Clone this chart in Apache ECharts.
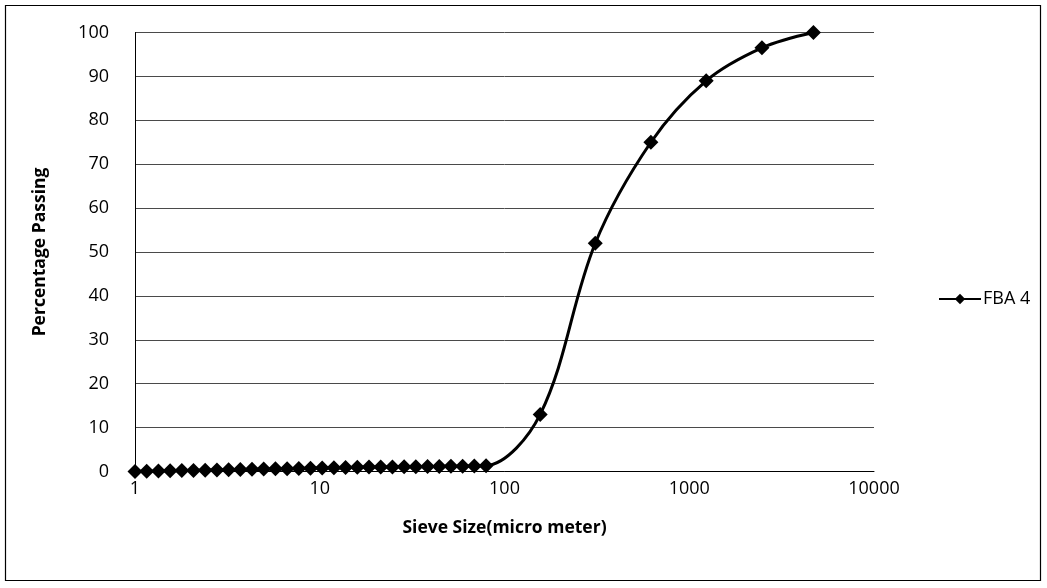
<!DOCTYPE html>
<html>
<head>
<meta charset="utf-8">
<title>FBA 4 grading curve</title>
<script src="https://cdn.jsdelivr.net/npm/echarts@6/dist/echarts.min.js"></script>
<style>
  html, body { margin: 0; padding: 0; background: #fff; }
  #chart { width: 1047px; height: 588px; }
</style>
</head>
<body>
<div id="chart"></div>
<script>
// Sieve sizes (micro meter) and cumulative percentage passing for FBA 4
const sieveSizes = [
  1, 1.157, 1.339, 1.549, 1.792, 2.073, 2.399, 2.776, 3.211, 3.716,
  4.299, 4.974, 5.755, 6.659, 7.704, 8.914, 10.31, 11.93, 13.8, 15.97,
  18.48, 21.38, 24.74, 28.62, 33.12, 38.32, 44.33, 51.3, 59.35, 68.67,
  79.45, 156, 310, 620, 1235, 2475, 4700
];
const percentPassing = [
  0, 0.05, 0.1, 0.15, 0.2, 0.25, 0.3, 0.35, 0.4, 0.45,
  0.5, 0.55, 0.6, 0.65, 0.7, 0.75, 0.8, 0.85, 0.9, 0.95,
  1.0, 1.0, 1.05, 1.1, 1.1, 1.15, 1.15, 1.2, 1.2, 1.25,
  1.3, 13, 52, 75, 89, 96.5, 100
];
const seriesName = 'FBA 4';
const xTitle = 'Sieve Size(micro meter)';
const yTitle = 'Percentage Passing';

const points = sieveSizes.map((s, i) => [s, percentPassing[i]]);

const chart = echarts.init(document.getElementById('chart'));
const font = '"Open Sans", "Noto Sans", "Liberation Sans", sans-serif';

chart.setOption({
  animation: false,
  backgroundColor: '#fff',
  textStyle: { fontFamily: font },
  grid: { left: 135, right: 173, top: 32.5, bottom: 116.5, containLabel: false },
  graphic: [{
    type: 'rect',
    shape: { x: 5.5, y: 5.5, width: 1035, height: 575 },
    style: { fill: 'none', stroke: '#000', lineWidth: 1.2 },
    silent: true
  }],
  legend: {
    data: [seriesName],
    orient: 'vertical',
    left: 933,
    top: 285,
    itemWidth: 42,
    itemHeight: 13,
    itemGap: 4,
    textStyle: { fontSize: 18, color: '#000', fontFamily: font, padding: [0, 0, 0, -3] }
  },
  xAxis: {
    type: 'log',
    logBase: 10,
    min: 1,
    max: 10000,
    name: xTitle,
    nameLocation: 'middle',
    nameGap: 48,
    nameTextStyle: { fontSize: 17.5, fontWeight: 'bold', color: '#000', fontFamily: font },
    axisLine: { show: true, lineStyle: { color: '#000', width: 1 } },
    axisTick: { show: false },
    splitLine: { show: false },
    minorTick: { show: false },
    axisLabel: {
      fontSize: 18, color: '#000', margin: 8, fontFamily: font,
      formatter: v => String(Math.round(v))
    }
  },
  yAxis: {
    type: 'value',
    min: 0,
    max: 100,
    interval: 10,
    name: yTitle,
    nameLocation: 'middle',
    nameGap: 86,
    nameRotate: 90,
    nameTextStyle: { fontSize: 17.5, fontWeight: 'bold', color: '#000', fontFamily: font },
    axisLine: { show: true, lineStyle: { color: '#000', width: 1 } },
    axisTick: { show: false },
    splitLine: { show: true, lineStyle: { color: '#4a4a4a', width: 1 } },
    axisLabel: { fontSize: 18, color: '#000', margin: 26, fontFamily: font }
  },
  series: [{
    name: seriesName,
    type: 'line',
    data: points,
    smooth: 0.35,
    symbol: 'diamond',
    symbolSize: 15,
    showAllSymbol: true,
    lineStyle: { color: '#000', width: 3 },
    itemStyle: { color: '#000' },
    z: 3
  }]
});
</script>
</body>
</html>
